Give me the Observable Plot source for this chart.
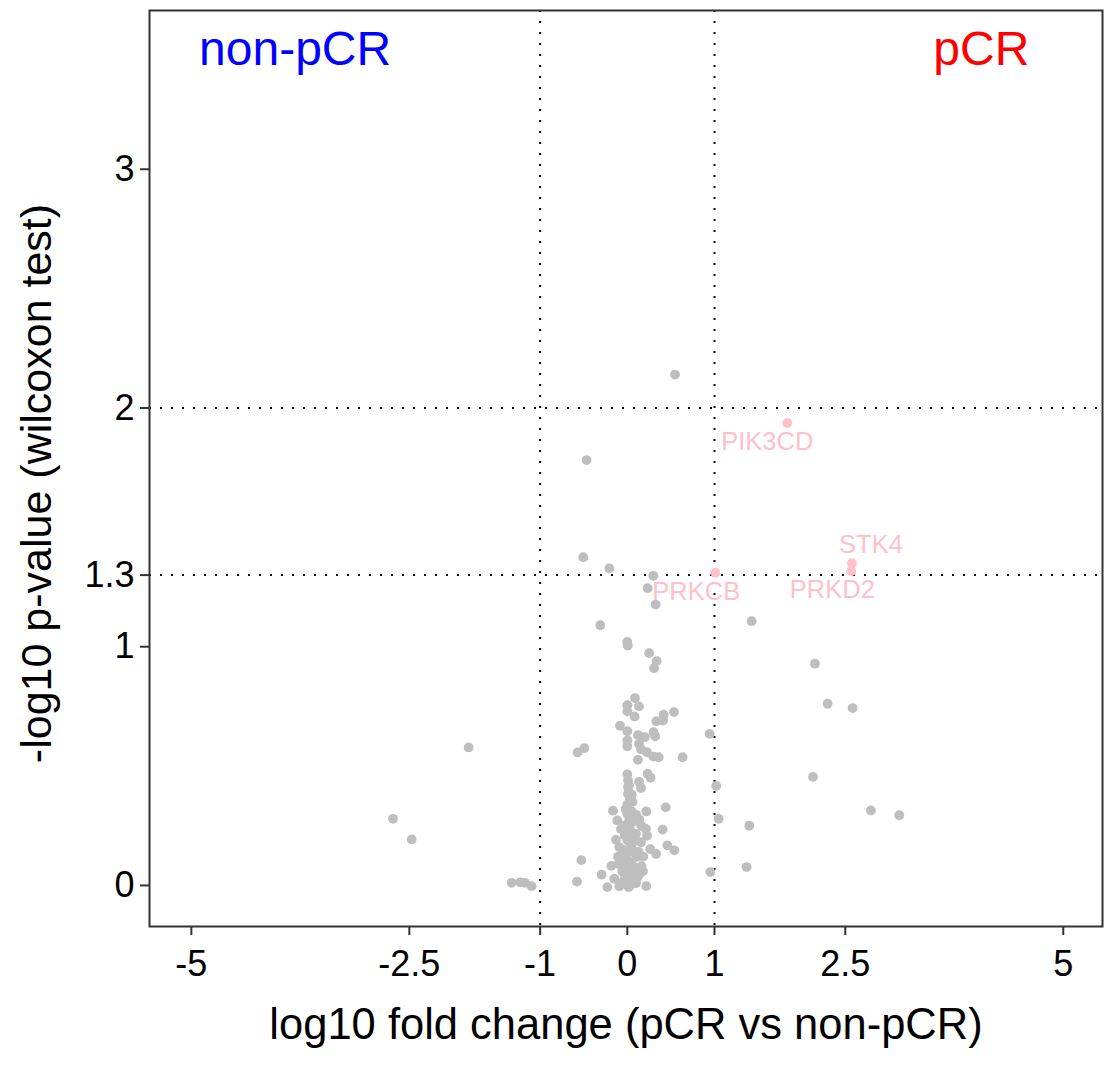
<!DOCTYPE html>
<html>
<head>
<meta charset="utf-8">
<script src="https://cdn.jsdelivr.net/npm/d3@7"></script>
<script src="https://cdn.jsdelivr.net/npm/@observablehq/plot@0.6"></script>
<style>
  html, body { margin: 0; padding: 0; background: white; }
  #chart svg { display: block; }
</style>
</head>
<body>
<div id="chart"></div>
<script>
// ---- data ----
const grayX = [
  -2.687, -2.473, -1.82, -1.327, -1.227, -1.173, -1.097,
  -0.467, -0.505, -0.206, 0.298, 0.233, 0.325, 0.547,
  -0.31, 0, 0.005, 0.25, 0.336, 0.306,
  1.426, 2.152, 2.297, 2.584, 0.944, 2.13, 1.02, 2.794, 3.119, 1.047, 1.399, 1.368, 0.952,
  -0.493, -0.57, 0.634, -0.527, -0.577, -0.295, -0.229,
  0.088, 0, 0.134, 0, 0.084, 0.535, 0.417, 0.41, 0.333, -0.084, 0, 0.122, 0.2, 0.30, 0.32,
  0, 0, 0.134, 0.157, 0.226, 0.30, 0.36, 0.122,
  0, 0.233, 0.267, 0.008, 0.134, 0.157, 0.008, 0.008, 0, 0.44, -0.164, 0.218, 0.1, 0,
  -0.115, 0.138, 0.214, 0.405, -0.073, 0.1, 0.226, -0.13, 0.157, 0, 0.459, 0.54, 0.264,
  0.33, -0.092, -0.107, 0.183, 0, -0.183, 0.164, 0, 0.138, -0.034, -0.149, -0.092, 0.015,
  0.1, 0.218, 0.118, -0.054,
  0.03, 0.06, -0.02, 0.05, 0.08, -0.04, 0.03, 0.06, -0.03, 0.02, 0.09, 0.05, -0.05, 0.02,
  0.08, 0.11, -0.02, 0.04, 0.07, 0.12, -0.06, 0.02, 0.06, -0.01, 0.04, 0.08, 0.03, 0.05,
  0.02, 0.18, 0.13, 0.16, -0.1, 0.07, 0.02
];
const grayY = [
  0.279, 0.193, 0.578, 0.011, 0.013, 0.011, -0.003,
  1.782, 1.375, 1.328, 1.297, 1.245, 1.177, 2.14,
  1.09, 1.02, 1.005, 0.973, 0.94, 0.91,
  1.107, 0.929, 0.761, 0.743, 0.635, 0.455, 0.417, 0.314, 0.294, 0.279, 0.25, 0.077, 0.056,
  0.575, 0.557, 0.537, 0.106, 0.016, 0.045, -0.007,
  0.785, 0.755, 0.75, 0.729, 0.708, 0.726, 0.715, 0.691, 0.688, 0.669, 0.646, 0.63, 0.621, 0.642, 0.625,
  0.607, 0.583, 0.593, 0.57, 0.558, 0.54, 0.537, 0.526,
  0.465, 0.468, 0.451, 0.44, 0.434, 0.408, 0.412, 0.384, 0.339, 0.327, 0.313, 0.31, 0.296, 0.30,
  0.272, 0.276, 0.237, 0.234, 0.236, 0.216, 0.208, 0.191, 0.181, 0.189, 0.168, 0.147, 0.152,
  0.132, 0.16, 0.12, 0.121, 0.132, 0.082, 0.081, 0.091, 0.046, 0.049, 0.028, -0.004, -0.007,
  0.01, -0.003, 0.035, 0.014,
  0.36, 0.35, 0.32, 0.31, 0.27, 0.25, 0.24, 0.22, 0.21, 0.2, 0.19, 0.17, 0.15, 0.15,
  0.14, 0.12, 0.11, 0.1, 0.08, 0.07, 0.06, 0.06, 0.04, 0.03, 0.02, 0.01, 0.0, 0.38,
  0.42, 0.06, 0.14, 0.25, 0.09, 0.3, 0.27
];
const hitGenes = ["PIK3CD", "STK4", "PRKD2", "PRKCB"];
const hitX = [1.835, 2.577, 2.569, 1.009];
const hitY = [1.937, 1.35, 1.317, 1.31];
const xTicks = [-5, -2.5, -1, 0, 1, 2.5, 5];
const yTicks = [0, 1, 1.3, 2, 3];
const fcCutoffs = [-1, 1];
const pCutoffs = [1.3, 2];
const groupLabels = ["non-pCR", "pCR"];
const xTitle = "log10 fold change (pCR vs non-pCR)";
const yTitle = "-log10 p-value (wilcoxon test)";

// ---- tables built from the arrays ----
const gray = grayX.map((x, i) => ({x, y: grayY[i]}));
const hits = hitGenes.map((g, i) => ({gene: g, x: hitX[i], y: hitY[i]}));

const font = "'Liberation Sans', Arial, Helvetica, sans-serif";
const labelShift = {PIK3CD: [-20, 19], STK4: [19, -18], PRKD2: [-19, 19], PRKCB: [-19, 19]};

const chart = Plot.plot({
  width: 1111,
  height: 1068,
  marginLeft: 149,
  marginRight: 9,
  marginTop: 10,
  marginBottom: 142,
  style: {fontFamily: font, background: "white", color: "black"},
  x: {domain: [-5.48, 5.45]},
  y: {domain: [-0.172, 3.665]},
  marks: [
    Plot.ruleX(fcCutoffs, {stroke: "black", strokeWidth: 2, strokeDasharray: "2,9"}),
    Plot.ruleY(pCutoffs, {stroke: "black", strokeWidth: 2, strokeDasharray: "2,9"}),
    Plot.dot(gray, {x: "x", y: "y", r: 4.9, fill: "#BEBEBE", stroke: null}),
    Plot.dot(hits, {x: "x", y: "y", r: 4.9, fill: "pink", stroke: null}),
    ...hitGenes.map(g => Plot.text(hits.filter(d => d.gene === g), {
      x: "x", y: "y", text: "gene", fill: "pink", fontSize: 25.5,
      dx: labelShift[g][0], dy: labelShift[g][1]
    })),
    Plot.text([groupLabels[0]], {x: -3.81, y: 3.5, text: d => d, fill: "blue", fontSize: 48}),
    Plot.text([groupLabels[1]], {x: 4.06, y: 3.5, text: d => d, fill: "red", fontSize: 48}),
    Plot.axisX(xTicks, {tickSize: 9, tickPadding: 15, fontSize: 36, stroke: "#333", strokeWidth: 2, fill: "black", label: null, tickFormat: d => String(d)}),
    Plot.axisY(yTicks, {tickSize: 9, tickPadding: 6, fontSize: 36, stroke: "#333", strokeWidth: 2, fill: "black", label: null, tickFormat: d => String(d)}),
    Plot.frame({stroke: "#333", strokeWidth: 2}),
    Plot.text([xTitle], {frameAnchor: "bottom", dy: 112, text: d => d, fontSize: 43.5, fill: "black"}),
    Plot.text([yTitle], {frameAnchor: "left", dx: -112, dy: 15, rotate: -90, textAnchor: "middle", text: d => d, fontSize: 43, fill: "black"})
  ]
});
document.getElementById("chart").appendChild(chart);
</script>
</body>
</html>
